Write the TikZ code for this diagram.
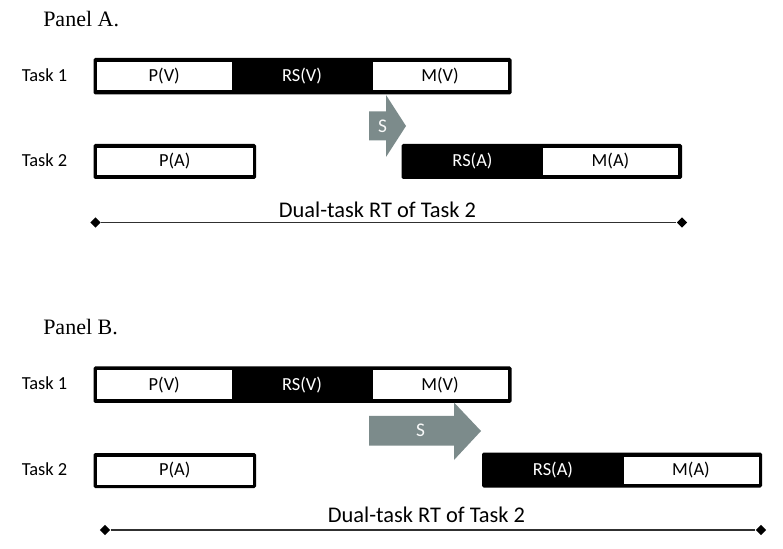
\documentclass[tikz,border=0pt]{standalone}
\usepackage{fontspec}
\setmainfont{Liberation Serif}
\newfontfamily\calib{Carlito}
\usetikzlibrary{shapes.geometric}
\definecolor{sgray}{HTML}{7C8B8B}
\definecolor{lgray}{HTML}{303030}
\tikzset{
  barblack/.style={fill=black, draw=none, rounded corners=1.2},
  cellwhite/.style={fill=white, draw=none},
  celltext/.style={font=\calib\fontsize{13.8}{15}\selectfont, inner sep=0pt},
  tasktext/.style={font=\calib\fontsize{13.8}{15}\selectfont, anchor=base west, inner sep=0pt},
  paneltext/.style={font=\fontsize{16.5}{19}\selectfont, anchor=base west, inner sep=0pt},
  rttext/.style={font=\calib\fontsize{16.8}{19}\selectfont, anchor=base, inner sep=0pt},
  stext/.style={font=\calib\fontsize{14.5}{16}\selectfont, text=white!95!sgray, inner sep=0pt},
  tick/.style={diamond, fill=black, inner sep=0pt, minimum size=8pt},
  rtline/.style={draw=lgray, line width=1.3pt}
}
\begin{document}
\begin{tikzpicture}[x=0.75pt, y=-0.75pt]
			%%%%% START %%%%%
			\useasboundingbox[fill=white] (0,0) rectangle (783,549);
			
			%% Panel A
			\node[paneltext] (pana) at (43,27) {Panel A.};
			\node[tasktext] (ta1) at (21.5,81.5) {Task 1};
			\node[tasktext] (ta2) at (21.5,166.5) {Task 2};
			
			\path[barblack] (93.5,58) rectangle (511.5,94.5);
			\path[cellwhite] (97,62) rectangle (231.5,90.5);
			\path[cellwhite] (372.5,62) rectangle (507.5,90.5);
			\node[celltext] (apv) at (164.25,76.5) {P(V)};
			\node[celltext, text=white] (arsv) at (302,76.5) {RS(V)};
			\node[celltext] (amv) at (440,76.5) {M(V)};
			
			\path[barblack] (93.5,144) rectangle (256,179);
			\path[cellwhite] (97,148) rectangle (252.5,175.5);
			\node[celltext] (apa) at (174.75,161.5) {P(A)};
			
			\path[barblack] (401.5,144) rectangle (682,179);
			\path[cellwhite] (543,148) rectangle (678,175.5);
			\node[celltext, text=white] (arsa) at (472.5,161.5) {RS(A)};
			\node[celltext] (ama) at (610.5,161.5) {M(A)};
			
			\fill[sgray] (369,111.5) -- (386,111.5) -- (386,95) -- (406,126) -- (386,157) -- (386,140.5) -- (369,140.5) -- cycle;
			\node[stext] (as) at (382.5,126) {S};
			
			\node[tick] (al) at (95.5,222.5) {};
			\node[tick] (ar) at (682,222.5) {};
			\draw[rtline] (al) -- (ar);
			\node[rttext] (art) at (377.5,217.5) {Dual-task RT of Task 2};
			
			%% Panel B
			\node[paneltext] (panb) at (43,335) {Panel B.};
			\node[tasktext] (tb1) at (21.5,389.5) {Task 1};
			\node[tasktext] (tb2) at (21.5,475.5) {Task 2};
			
			\path[barblack] (93.5,366.5) rectangle (511.5,403);
			\path[cellwhite] (97,370.5) rectangle (231.5,399);
			\path[cellwhite] (372.5,370.5) rectangle (507.5,399);
			\node[celltext] (bpv) at (164.25,385) {P(V)};
			\node[celltext, text=white] (brsv) at (302,385) {RS(V)};
			\node[celltext] (bmv) at (440,385) {M(V)};
			
			\path[barblack] (93.5,453) rectangle (256,488);
			\path[cellwhite] (97,457) rectangle (252.5,484.5);
			\node[celltext] (bpa) at (174.75,470.5) {P(A)};
			
			\path[barblack] (482,452.5) rectangle (762,487.5);
			\path[cellwhite] (624,456.5) rectangle (758.5,484);
			\node[celltext, text=white] (brsa) at (553,470) {RS(A)};
			\node[celltext] (bma) at (691,470) {M(A)};
			
			\fill[sgray] (369,416) -- (454,416) -- (454,402.5) -- (481,431) -- (454,460) -- (454,445.5) -- (369,445.5) -- cycle;
			\node[stext] (bs) at (420.5,430.5) {S};
			
			\node[tick] (bl) at (105,530) {};
			\node[tick] (br) at (761,530) {};
			\draw[rtline] (bl) -- (br);
			\node[rttext] (brt) at (426.5,522) {Dual-task RT of Task 2};
			%%%%% END %%%%%
\end{tikzpicture}
\end{document}
